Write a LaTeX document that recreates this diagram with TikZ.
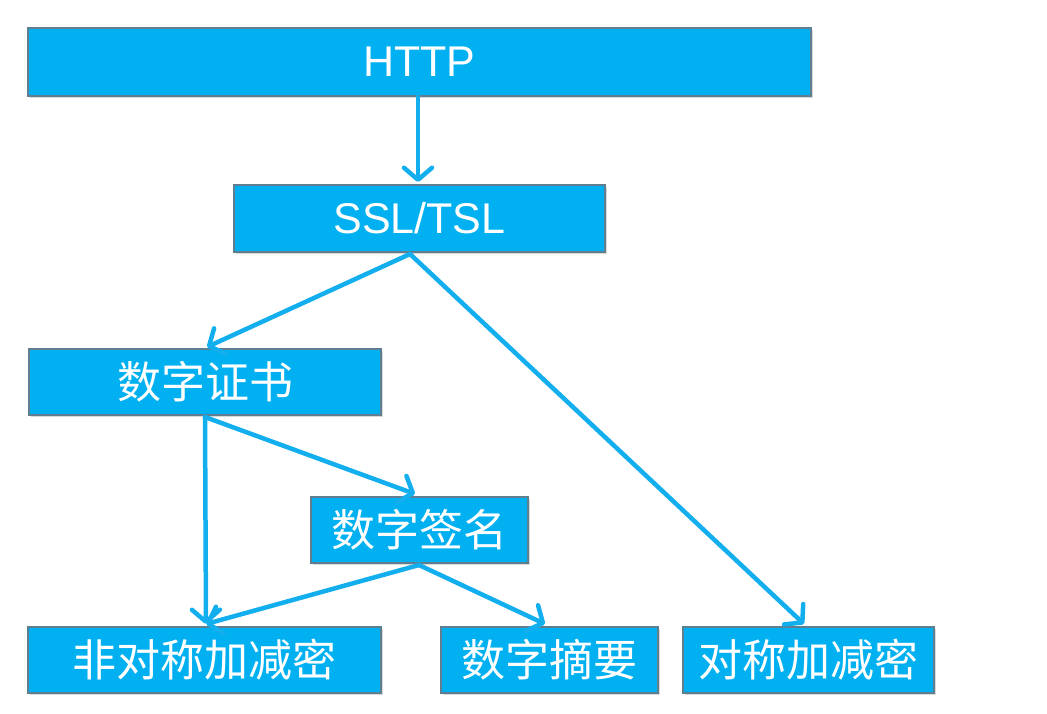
\documentclass[tikz,border=0pt]{standalone}
\usepackage{fontspec}
\setmainfont{Liberation Sans}
\newfontfamily\cjk{Noto Sans CJK SC}
\usetikzlibrary{arrows.meta,shadows}
\definecolor{boxfill}{HTML}{00B0F0}
\definecolor{boxline}{HTML}{5F7F90}
\definecolor{arrowc}{HTML}{12AEEE}
\tikzset{
  box/.style={draw=boxline, line width=1.2pt, fill=boxfill, text=white, inner sep=0pt,
    drop shadow={shadow xshift=2pt, shadow yshift=-2pt, opacity=0.25, fill=black!60}},
  conn/.style={draw=arrowc, line width=4.5pt, line cap=round,
    -{Straight Barb[length=12pt, width=28pt, line width=4.5pt, round]}},
  lat/.style={font=\fontsize{43}{48}\selectfont},
  zh/.style={font=\cjk\fontsize{44}{50}\selectfont}
}
\begin{document}
\begin{tikzpicture}[x=1pt,y=-1pt]
\useasboundingbox (0,0) rectangle (1047,713);
\node[box, lat, minimum width=783pt, minimum height=68pt] (http) at (419.5,62) {HTTP};
\node[box, lat, minimum width=371pt, minimum height=67pt] (ssl) at (419.5,218.5) {SSL/TSL};
\node[box, zh, minimum width=352pt, minimum height=66pt] (cert) at (205,382) {数字证书};
\node[box, zh, minimum width=217pt, minimum height=66pt] (sign) at (419.5,530) {数字签名};
\node[box, zh, minimum width=353pt, minimum height=66pt] (asym) at (204.5,660) {非对称加减密};
\node[box, zh, minimum width=217pt, minimum height=66pt] (digest) at (549.5,660) {数字摘要};
\node[box, zh, minimum width=251pt, minimum height=66pt] (sym) at (808.5,660) {对称加减密};
\coordinate (httpB) at (418,97);
\coordinate (sslT) at (418,182);
\coordinate (sslB) at (410,254);
\coordinate (certT) at (207,347);
\coordinate (symT) at (804,624);
\coordinate (certB) at (205,417);
\coordinate (asymT) at (206,624);
\coordinate (signT) at (415,494);
\coordinate (signB) at (419,565);
\coordinate (digestT) at (545,624);
\draw[conn] (httpB) -- (sslT);
\draw[conn] (sslB) -- (certT);
\draw[conn] (sslB) -- (symT);
\draw[conn] (certB) -- (asymT);
\draw[conn] (certB) -- (signT);
\draw[conn] (signB) -- (asymT);
\draw[conn] (signB) -- (digestT);
\end{tikzpicture}
\end{document}
